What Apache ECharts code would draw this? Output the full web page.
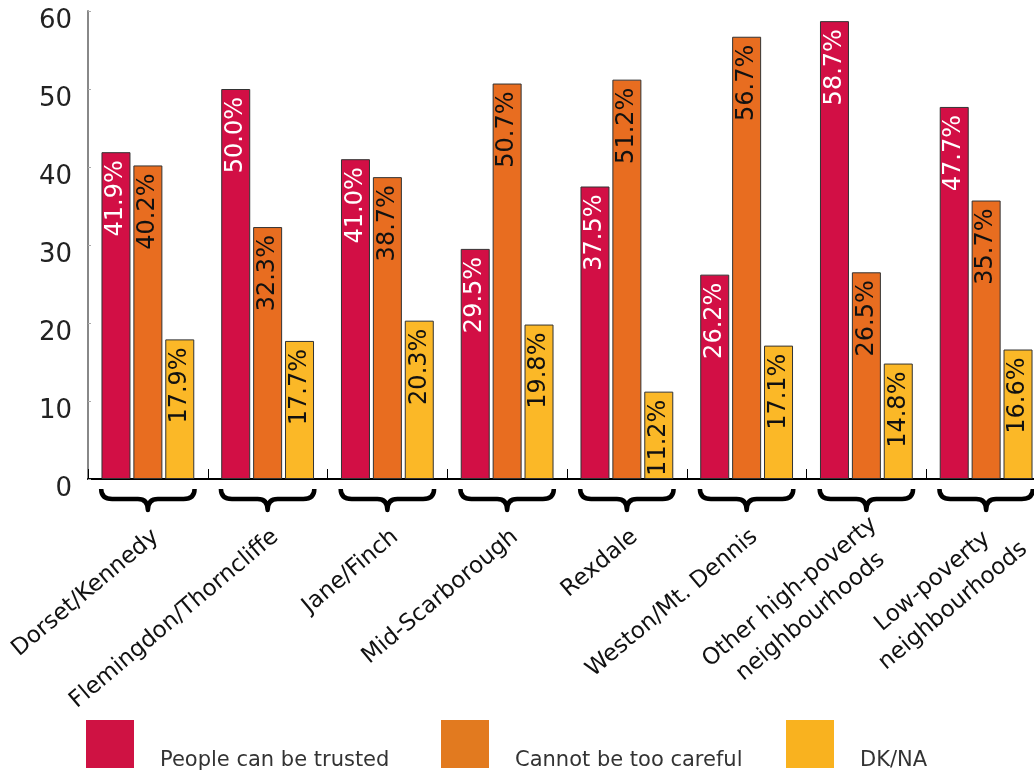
<!DOCTYPE html>
<html>
<head>
<meta charset="utf-8">
<script src="https://cdn.jsdelivr.net/npm/echarts@6/dist/echarts.min.js"></script>
<style>html,body{margin:0;padding:0;background:#fff}#c{width:1034px;height:774px}</style>
</head>
<body>
<div id="c"></div>
<script>
var categories = ['Dorset/Kennedy', 'Flemingdon/Thorncliffe', 'Jane/Finch', 'Mid-Scarborough', 'Rexdale', 'Weston/Mt. Dennis', 'Other high-poverty\nneighbourhoods', 'Low-poverty\nneighbourhoods'];
var trusted = [41.9, 50.0, 41.0, 29.5, 37.5, 26.2, 58.7, 47.7];
var careful = [40.2, 32.3, 38.7, 50.7, 51.2, 56.7, 26.5, 35.7];
var dkna = [17.9, 17.7, 20.3, 19.8, 11.2, 17.1, 14.8, 16.6];
var yTicks = [0, 10, 20, 30, 40, 50, 60];
var seriesNames = ['People can be trusted', 'Cannot be too careful', 'DK/NA'];

// layout-only: horizontal nudge (px) of each rotated category label
var labelNudge = [0, 0, 0, 0, 0, 0, 10, 20];

var barColors = ['#D20F45', '#E86D20', '#FBB827'];
var legendColors = ['#CF1243', '#E27A1F', '#F9B21F'];
var FONT = 'DejaVu Sans';

var chart = echarts.init(document.getElementById('c'), null, {renderer: 'canvas'});

function labelCfg(color) {
  return {
    show: true, position: 'insideTop', rotate: 90, align: 'right', verticalAlign: 'middle',
    distance: 8, fontFamily: FONT, fontSize: 24, color: color,
    formatter: function (p) { return p.value.toFixed(1) + '%'; }
  };
}
function barSeries(i, data, labelColor) {
  return {
    name: seriesNames[i], type: 'bar', data: data, barWidth: 29, barGap: '10%',
    itemStyle: {color: barColors[i], borderColor: '#333', borderWidth: 1},
    label: labelCfg(labelColor), silent: true
  };
}
function legendCfg(i, left) {
  return {
    left: left, top: 720, padding: 0, itemWidth: 48, itemHeight: 48, icon: 'rect',
    selectedMode: false,
    data: [{name: seriesNames[i], itemStyle: {color: legendColors[i], borderWidth: 0}}],
    formatter: function (n) { return '{t|' + n + '}'; },
    textStyle: {
      fontFamily: FONT, fontSize: 21, color: '#333',
      rich: {t: {fontFamily: FONT, fontSize: 21, color: '#333', padding: [34, 0, 0, 21]}}
    }
  };
}

chart.setOption({
  animation: false,
  backgroundColor: '#fff',
  grid: {left: 88, top: 11, width: 958, height: 468, containLabel: false, outerBoundsMode: 'none'},
  legend: [legendCfg(0, 86), legendCfg(1, 441), legendCfg(2, 786)],
  xAxis: {
    type: 'category', data: categories, boundaryGap: true,
    axisLine: {lineStyle: {color: '#000', width: 2}},
    axisTick: {show: true, inside: true, length: 10, interval: 0, lineStyle: {color: '#000', width: 1}},
    axisLabel: {show: false}
  },
  yAxis: {
    type: 'value', min: yTicks[0], max: yTicks[yTicks.length - 1], interval: 10,
    splitLine: {show: false},
    axisLine: {show: true, lineStyle: {color: '#888', width: 2}},
    axisTick: {show: true, inside: true, length: 3, lineStyle: {color: '#aaa'}},
    axisLabel: {
      margin: 16, fontFamily: FONT, fontSize: 26, color: '#222',
      formatter: function (v) { return '{a|' + v + '}'; },
      rich: {a: {fontFamily: FONT, fontSize: 26, color: '#222', padding: [20, 0, 0, 0]}}
    }
  },
  series: [
    barSeries(0, trusted, '#fff'),
    barSeries(1, careful, '#111'),
    barSeries(2, dkna, '#111'),
    {
      type: 'custom', silent: true, clip: false, z: 5,
      data: categories.map(function (c, i) { return [i]; }),
      encode: {x: 0},
      renderItem: function (params, api) {
        var idx = api.value(0);
        var p = api.coord([idx, 0]);
        var w = api.size([1, 0])[0];
        var h = w * 0.39;
        var x0 = p[0] - h, x1 = p[0] + h, xc = p[0];
        var yt = p[1] + 10, ym = p[1] + 20, yb = p[1] + 31;
        var path = 'M' + x0 + ',' + yt +
          ' Q' + x0 + ',' + ym + ' ' + (x0 + 11) + ',' + ym +
          ' L' + (xc - 10) + ',' + ym +
          ' Q' + xc + ',' + ym + ' ' + xc + ',' + yb +
          ' Q' + xc + ',' + ym + ' ' + (xc + 10) + ',' + ym +
          ' L' + (x1 - 11) + ',' + ym +
          ' Q' + x1 + ',' + ym + ' ' + x1 + ',' + yt;
        var label = categories[idx].split('\n').map(function (s) { return '{c|' + s + '}'; }).join('\n');
        return {
          type: 'group',
          children: [
            {
              type: 'path', shape: {pathData: path},
              style: {fill: null, stroke: '#000', lineWidth: 4.5, lineJoin: 'round', lineCap: 'butt'}
            },
            {
              type: 'text', x: xc + 8 + labelNudge[idx], y: p[1] + 55, rotation: 40 * Math.PI / 180,
              style: {
                text: label, align: 'right', verticalAlign: 'middle',
                fontFamily: FONT, fontSize: 23, fill: '#111',
                rich: {c: {align: 'center', fontFamily: FONT, fontSize: 23, fill: '#111', lineHeight: 32}}
              }
            }
          ]
        };
      }
    }
  ]
});
</script>
</body>
</html>
